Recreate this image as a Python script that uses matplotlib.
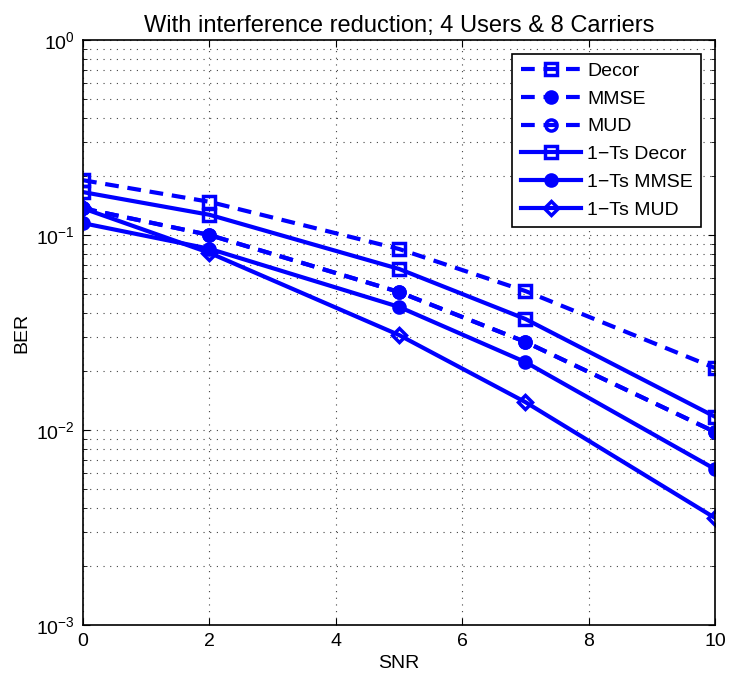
import matplotlib
matplotlib.use('Agg')
import matplotlib.pyplot as plt
from matplotlib.ticker import LogLocator, NullFormatter

plt.rcParams['font.family'] = ['Liberation Sans', 'DejaVu Sans']
plt.rcParams['mathtext.fontset'] = 'custom'
plt.rcParams['mathtext.rm'] = 'Liberation Sans'
plt.rcParams['mathtext.it'] = 'Liberation Sans:italic'

# SNR points
snr = [0, 2, 5, 7, 10]

# BER values
decor = [0.191, 0.148, 0.0848, 0.0516, 0.0208]
mmse = [0.137, 0.100, 0.051, 0.0283, 0.00977]
mud = [0.137, 0.100, 0.051, 0.0283, 0.00977]
ts_decor = [0.166, 0.127, 0.067, 0.0371, 0.0117]
ts_mmse = [0.115, 0.085, 0.0428, 0.0223, 0.0063]
ts_mud = [0.137, 0.081, 0.0307, 0.0139, 0.00354]

blue = '#0000ff'
lw = 3
dash = (3.3, 2.1)

fig = plt.figure(figsize=(7.29, 6.90), dpi=100)
ax = fig.add_axes([0.1139, 0.0942, 0.8669, 0.8478])

ax.semilogy(snr, decor, color=blue, lw=lw, dashes=dash, marker='s', ms=8,
            mfc='none', mew=2.5, label='Decor')
ax.semilogy(snr, mmse, color=blue, lw=lw, dashes=dash, marker='o', ms=9,
            mfc=blue, mew=1.5, label='MMSE')
ax.semilogy(snr, mud, color=blue, lw=lw, dashes=dash, marker='o', ms=8,
            mfc='none', mew=2.5, label='MUD')
ax.semilogy(snr, ts_decor, color=blue, lw=lw, marker='s', ms=8,
            mfc='none', mew=2.5, label='1\u2212Ts Decor')
ax.semilogy(snr, ts_mmse, color=blue, lw=lw, marker='o', ms=9,
            mfc=blue, mew=1.5, label='1\u2212Ts MMSE')
ax.semilogy(snr, ts_mud, color=blue, lw=lw, marker='D', ms=7.5,
            mfc='none', mew=2.5, label='1\u2212Ts MUD')

ax.set_xlim(0, 10)
ax.set_ylim(1e-3, 1)
ax.set_xticks([0, 2, 4, 6, 8, 10])
ax.yaxis.set_major_locator(LogLocator(base=10, numticks=10))
ax.yaxis.set_minor_locator(LogLocator(base=10, subs=range(2, 10), numticks=10))
ax.yaxis.set_minor_formatter(NullFormatter())

grid_style = dict(linestyle=(0, (1, 5)), color='#444444', lw=0.8)
ax.grid(True, which='major', **grid_style)
ax.grid(True, which='minor', axis='y', **grid_style)

ax.tick_params(which='both', direction='in', top=True, right=True, labelsize=14)
ax.tick_params(which='major', length=5, pad=6)
ax.tick_params(which='minor', length=3)
for s in ax.spines.values():
    s.set_linewidth(1.2)

ax.set_xlabel('SNR', fontsize=14, labelpad=3)
ax.set_ylabel('BER', fontsize=14, labelpad=4)
ax.set_title('With interference reduction; 4 Users & 8 Carriers', fontsize=17,
             pad=6, family=['Liberation Sans Narrow', 'Liberation Sans'])

leg = ax.legend(loc='upper right', fontsize=14, fancybox=False, framealpha=1,
                edgecolor='black', handlelength=3.1, borderaxespad=0.7,
                labelspacing=0.52, handletextpad=0.3, borderpad=0.45)
leg.get_frame().set_linewidth(1.2)

plt.savefig('out.png', dpi=100)
